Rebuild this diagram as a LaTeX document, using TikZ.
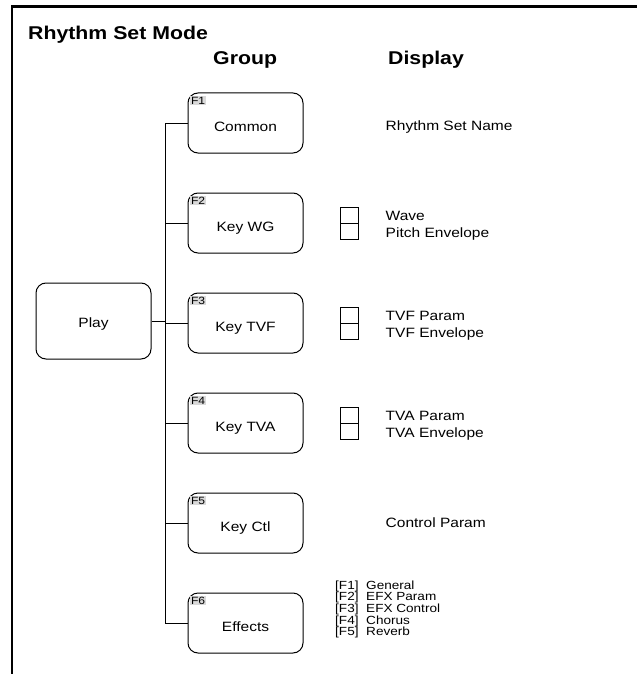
\documentclass[tikz,border=0pt]{standalone}
\usepackage{fontspec}
\setmainfont{Liberation Sans}[FakeStretch=1.15]
\usetikzlibrary{positioning,calc}

\newcommand\hdfont{\fontsize{18.5}{22}\selectfont\bfseries}
\newcommand\bxfont{\fontsize{13.5}{16}\selectfont}
\newcommand\effont{\fontsize{11.8}{12}\selectfont}

\begin{document}
\begin{tikzpicture}[x=1pt, y=-1pt, font=\bxfont,
      grp/.style={draw, rounded corners=10pt, line width=1pt, minimum width=115pt, minimum height=60pt, text height=21pt, text depth=3.5pt},
      fk/.style={fill=gray!30, inner sep=0.8pt, font=\fontsize{10.5}{11}\selectfont},
      sq/.style={draw, line width=0.6pt, minimum width=18pt, minimum height=16pt, inner sep=0pt, outer sep=0pt},
      dt/.style={anchor=base west, inner sep=0pt},
      hd/.style={anchor=base west, inner sep=0pt, font=\hdfont}]
      \useasboundingbox (0,0) rectangle (637,674);
      \draw[line width=2.5pt] (12,674) -- (12,6.5) -- (637,6.5);
      \node[hd] (title) at (28,40) {Rhythm Set Mode};
      \node[hd] (grphd) at (213,65) {Group};
      \node[hd] (disphd) at (388,65) {Display};
      % groups
      \node[grp] (cm) at (245.5,123) {Common};
      \node[grp, below=39pt of cm] (wg) {Key WG};
      \node[grp, below=39pt of wg] (tvf) {Key TVF};
      \node[grp, below=39pt of tvf] (tva) {Key TVA};
      \node[grp, below=39pt of tva] (ctl) {Key Ctl};
      \node[grp, below=39pt of ctl] (fx) {Effects};
      \node[grp, minimum height=76pt, text height=17pt] (play) at (93.5,321) {Play};
      \foreach \n/\f in {cm/F1, wg/F2, tvf/F3, tva/F4, ctl/F5, fx/F6}
        \node[fk, anchor=north west] (\n F) at ([shift={(2.5,3.5)}]\n.north west) {\f};
      % tree lines
      \coordinate (tk) at ([xshift=-22.5pt]cm.west);
      \draw[line width=0.8pt] (cm.west) -- (tk) |- (fx.west);
      \foreach \n in {wg,tvf,tva,ctl}
        \draw[line width=0.8pt] (\n.west) -- (\n.west -| tk);
      \draw[line width=0.8pt] (play.east) -- (play.east -| tk);
      % display column
      \node[dt] (cmT) at ($(cm.east)+(82,7.5)$) {Rhythm Set Name};
      \foreach \n/\a/\b in {wg/Wave/Pitch Envelope, tvf/TVF Param/TVF Envelope, tva/TVA Param/TVA Envelope} {
        \node[sq, anchor=south] (\n A) at ($(\n.east)+(46,0)$) {};
        \node[sq, below=0pt of \n A] (\n B) {};
        \node[dt] (\n T1) at ($(\n.east)+(82,-3)$) {\a};
        \node[dt] (\n T2) at ($(\n.east)+(82,14.5)$) {\b};
      }
      \node[dt] (ctlT) at ($(ctl.east)+(82,4.5)$) {Control Param};
      \foreach \k/\m [count=\i] in {F1/General, F2/EFX Param, F3/EFX Control, F4/Chorus, F5/Reverb} {
        \node[dt, font=\effont] (fk\i) at (335,{589.3+11.67*(\i-1)}) {[\k]};
        \node[dt, font=\effont] (fn\i) at (366,{589.3+11.67*(\i-1)}) {\m};
      }
    \end{tikzpicture}
\end{document}
